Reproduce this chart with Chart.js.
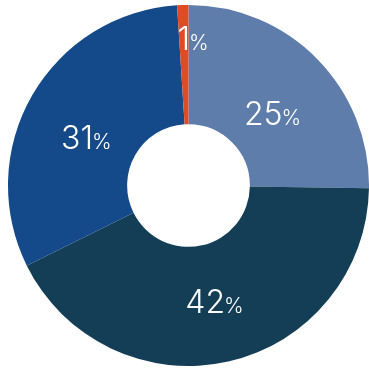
<!DOCTYPE html>
<html>
<head>
<meta charset="utf-8">
<script src="https://cdn.jsdelivr.net/npm/chart.js@4"></script>
<style>
  html, body { margin: 0; padding: 0; background: #ffffff; }
  #wrap { width: 369px; height: 374px; }
</style>
</head>
<body>
<div id="wrap"><canvas id="donutChart" width="369" height="374"></canvas></div>
<script>
var categories = ["25%", "42%", "31%", "1%"];
var values = [25, 42, 31, 1];
var colors = ["#5f7dab", "#133e56", "#154a8a", "#e04a26"];

// draws "NN%" inside each slice, number big and percent sign small
var sliceLabels = {
    id: 'sliceLabels',
    afterDatasetsDraw: function(chart) {
        var ctx = chart.ctx;
        var meta = chart.getDatasetMeta(0);
        var gap = -1;
        ctx.save();
        ctx.fillStyle = '#ffffff';
        ctx.textBaseline = 'alphabetic';
        ctx.textAlign = 'left';
        meta.data.forEach(function(arc, i) {
            var p = arc.getProps(['x', 'y', 'startAngle', 'endAngle', 'innerRadius', 'outerRadius']);
            var mid = (p.startAngle + p.endAngle) / 2;
            var small = (p.endAngle - p.startAngle) < 0.2;
            var r = small ? p.outerRadius - 33 : (p.innerRadius + p.outerRadius) / 2 - 3;
            var x = p.x + Math.cos(mid) * r;
            var y = p.y + Math.sin(mid) * r;
            if (!small && Math.sin(mid) < 0) y += 10;
            var num = String(values[i]);
            ctx.font = '300 32px Inter';
            var wn = ctx.measureText(num).width;
            ctx.font = '300 21px Inter';
            var wp = ctx.measureText('%').width;
            var left = small ? x - wn / 2 : x - (wn + wp + gap) / 2;
            ctx.font = '300 32px Inter';
            ctx.fillText(num, left, y + 12);
            ctx.font = '300 21px Inter';
            ctx.fillText('%', left + wn + gap, y + 12);
        });
        ctx.restore();
    }
};

var config = {
    type: 'doughnut',
    data: {
        labels: categories,
        datasets: [{
            data: values,
            backgroundColor: colors,
            borderWidth: 0
        }]
    },
    options: {
        responsive: false,
        animation: false,
        cutout: '34%',
        layout: { padding: { left: 8, right: 0, top: 5, bottom: 8 } },
        plugins: {
            legend: { display: false },
            tooltip: { enabled: false }
        }
    },
    plugins: [sliceLabels]
};

var ctx = document.getElementById("donutChart");
var myDoughnut = new Chart(ctx, config);
</script>
</body>
</html>
